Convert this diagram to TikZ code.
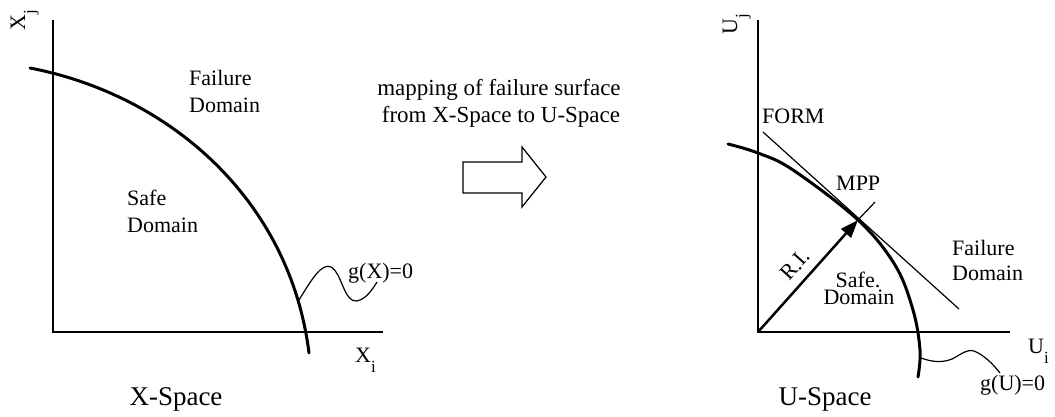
\documentclass[tikz,border=0pt]{standalone}
\usepackage{fontspec}
\setmainfont{Liberation Serif}
\usetikzlibrary{arrows.meta}
\begin{document}
\begin{tikzpicture}[x=1pt,y=-1pt,
  axisline/.style={line width=1.5pt},
  surf/.style={line width=3pt, line cap=round},
  thinline/.style={line width=1.2pt},
  lbl/.style={inner sep=0pt, font=\fontsize{22}{26}\selectfont},
  maplbl/.style={inner sep=0pt, font=\fontsize{23}{27}\selectfont},
  biglbl/.style={inner sep=0pt, font=\fontsize{27}{32}\selectfont}]
\newcommand{\lowsub}[1]{\raisebox{-10pt}{\fontsize{17}{17}\selectfont #1}}
\useasboundingbox[fill=white] (0,0) rectangle (1055,416);

% ---------- left: X-space ----------
\coordinate (LT) at (53,20);
\coordinate (LO) at (53,332);
\coordinate (LR) at (383,332);
\draw[axisline] (LT) -- (LO) -- (LR);
\coordinate (LS0) at (30,68);
\coordinate (LS1) at (309,353);
\draw[surf] (LS0) .. controls (170,95) and (290,200) .. (LS1);
\coordinate (gx0) at (299,300);
\coordinate (gx1) at (377,282);
\draw[thinline] (gx0) .. controls (313,277) and (322,263) .. (331,267) .. controls (342,273) and (344,303) .. (357,301) .. controls (366,299) and (372,290) .. (gx1);
\node[lbl, anchor=base west] (gxl) at (348,278) {g(X)=0};
\node[lbl, anchor=base west] (xi) at (355,362) {X\lowsub{i}};
\node[lbl, anchor=base west, rotate=90] (xj) at (25,31) {X\lowsub{j}};
\node[lbl, anchor=base west] (lf1) at (189,85) {Failure};
\node[lbl, anchor=base west] (lf2) at (189,112) {Domain};
\node[lbl, anchor=base west] (ls1) at (127,205) {Safe};
\node[lbl, anchor=base west] (ls2) at (127,232) {Domain};
\node[biglbl, anchor=base] (xs) at (176,405) {X-Space};

% ---------- middle ----------
\node[maplbl, anchor=base] (m1) at (499,95) {mapping of failure surface};
\node[maplbl, anchor=base] (m2) at (501,122) {from X-Space to U-Space};
\draw[thinline, line join=miter] (463,162) -- (522,162) -- (522,147) -- (546,177) -- (522,207) -- (522,193) -- (463,193) -- cycle;

% ---------- right: U-space ----------
\coordinate (RT) at (758,20);
\coordinate (RO) at (758,332);
\coordinate (RR) at (1010,332);
\draw[axisline] (RT) -- (RO) -- (RR);
\draw[surf] plot[smooth, tension=0.6] coordinates {(728,144) (758,153) (793,170) (858,220) (895,265) (913,310) (920,350) (918,377)};
\coordinate (MPP) at (858,220);
\coordinate (F1) at (763,132);
\coordinate (F2) at (959,309);
\coordinate (RIend) at (875,202);
\draw[thinline] (F1) -- (F2);
\draw[thinline] (MPP) -- (RIend);
\draw[line width=2.5pt, -{Triangle[length=18pt,width=13pt]}] (RO) -- (MPP);
\coordinate (gu0) at (921,358);
\coordinate (gu1) at (1000,373);
\draw[thinline] (gu0) .. controls (932,362) and (942,363) .. (952,359) .. controls (962,354) and (966,349) .. (974,351) .. controls (984,355) and (993,364) .. (gu1);
\node[lbl, anchor=base west] (gul) at (980,390) {g(U)=0};
\node[lbl, anchor=base west] (ui) at (1028,353) {U\lowsub{i}};
\node[lbl, anchor=base west, rotate=90] (uj) at (737,35) {U\lowsub{j}};
\node[lbl, anchor=base west] (form) at (762,123) {FORM};
\node[lbl, anchor=base west] (mppl) at (836,190) {MPP};
\node[lbl, anchor=center, rotate=48] (ri) at (795,265) {R.I.};
\node[lbl, anchor=base] (rs1) at (858,287) {Safe.};
\node[lbl, anchor=base] (rs2) at (859,304) {Domain};
\node[lbl, anchor=base west] (rf1) at (952,255) {Failure};
\node[lbl, anchor=base west] (rf2) at (952,280) {Domain};
\node[biglbl, anchor=base] (us) at (825,405) {U-Space};
\end{tikzpicture}
\end{document}
